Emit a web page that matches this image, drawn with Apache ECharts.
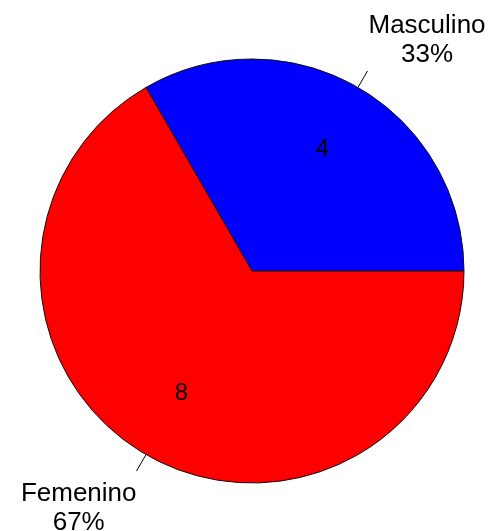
<!DOCTYPE html>
<html>
<head>
<meta charset="utf-8">
<script src="https://cdn.jsdelivr.net/npm/echarts@6/dist/echarts.min.js"></script>
<style>html,body{margin:0;padding:0;background:#fff;}#c{width:496px;height:531px;}</style>
</head>
<body>
<div id="c"></div>
<script>
const categories = ['Masculino', 'Femenino'];
const values = [4, 8];
const percentLabels = ['33%', '67%'];
const colors = ['#0000FF', '#FF0000'];

const CX = 252, CY = 271, R = 212;
const chart = echarts.init(document.getElementById('c'), null, {renderer: 'canvas'});
const data = categories.map((c, i) => ({name: c, value: values[i], itemStyle: {color: colors[i]}}));
const dataOuter = categories.map((c, i) => ({name: c, value: values[i]}));
const font = 'Liberation Sans, Arial, sans-serif';

chart.setOption({
  animation: false,
  series: [
    {
      type: 'pie',
      center: [CX, CY],
      radius: [0, R],
      startAngle: 0,
      clockwise: false,
      silent: true,
      itemStyle: {borderColor: '#111', borderWidth: 1},
      label: {
        show: true,
        position: 'inner',
        formatter: p => String(p.value),
        color: '#000',
        fontFamily: font,
        fontSize: 24
      },
      labelLine: {show: false},
      labelLayout: function (p) {
        const r = p.labelRect;
        const lx = r.x + r.width / 2, ly = r.y + r.height / 2;
        const dx = lx - CX, dy = ly - CY;
        const d = Math.sqrt(dx * dx + dy * dy) || 1;
        const k = 141 / d;
        return {x: CX + dx * k, y: CY + dy * k, align: 'center', verticalAlign: 'middle'};
      },
      data: data
    },
    {
      type: 'pie',
      center: [CX, CY],
      radius: [0, R],
      startAngle: 0,
      clockwise: false,
      silent: true,
      z: 3,
      itemStyle: {color: 'transparent', borderWidth: 0},
      label: {
        show: true,
        position: 'outside',
        overflow: 'none',
        formatter: p => p.name + '\n' + percentLabels[p.dataIndex],
        color: '#000',
        fontFamily: font,
        fontSize: 26,
        lineHeight: 29,
        align: 'center'
      },
      labelLine: {
        show: true,
        length: 19,
        length2: 0,
        lineStyle: {color: '#000', width: 1}
      },
      labelLayout: function (p) {
        const pts = p.labelLinePoints;
        if (!pts) return {};
        const end = pts[pts.length - 1];
        const w = p.labelRect.width, h = p.labelRect.height;
        if (end[0] > CX) {
          return {x: end[0] + w / 2 + 1, y: end[1] - 2 - h / 2, align: 'center', verticalAlign: 'middle', labelLinePoints: pts};
        } else {
          return {x: end[0] - w / 2, y: end[1] + 8 + h / 2, align: 'center', verticalAlign: 'middle', labelLinePoints: pts};
        }
      },
      data: dataOuter
    }
  ]
});
</script>
</body>
</html>
